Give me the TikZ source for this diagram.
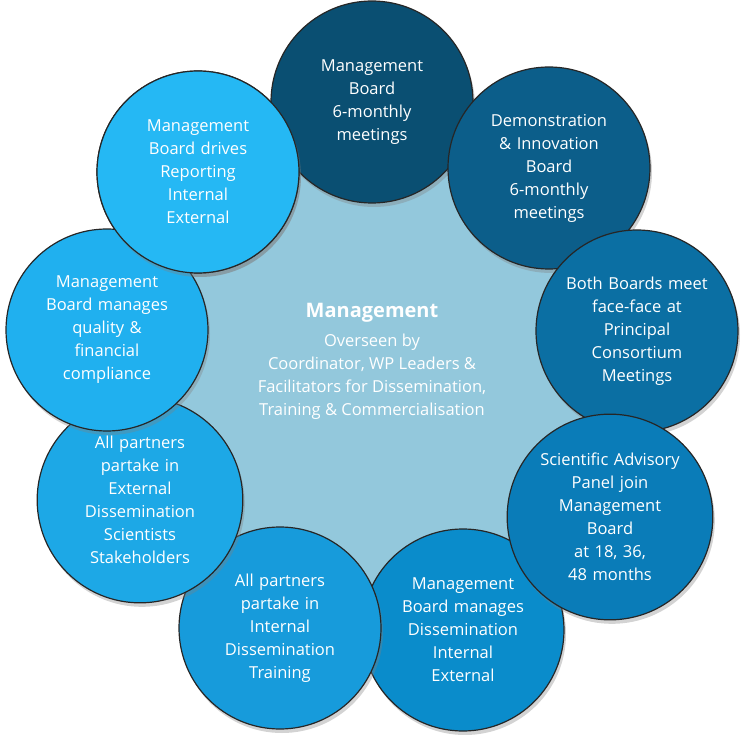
\documentclass[tikz,border=0pt]{standalone}
\usepackage{fontspec}
\setmainfont{Open Sans}
\usetikzlibrary{shadows}
\definecolor{hubfill}{HTML}{93C8DC}
\definecolor{cA}{HTML}{0A4F72}
\definecolor{cB}{HTML}{0C5E8A}
\definecolor{cC}{HTML}{0B6FA3}
\definecolor{cD}{HTML}{0A7CB8}
\definecolor{cE}{HTML}{0A8CCB}
\definecolor{cF}{HTML}{179BDB}
\definecolor{cG}{HTML}{1DA8E6}
\definecolor{cH}{HTML}{20B0EF}
\definecolor{cI}{HTML}{25B8F4}
\tikzset{
  petal/.style={circle, draw=black!85, line width=1.2pt, minimum size=202pt,
    text width=150pt, align=center, text=white, font=\fontsize{16.5}{23}\selectfont,
    drop shadow={opacity=0.35, shadow xshift=2pt, shadow yshift=-4pt}},
  hub/.style={circle, fill=hubfill, minimum size=440pt, text=white, align=center}
}
\begin{document}
\begin{tikzpicture}[x=1pt,y=-1pt]
  \useasboundingbox (0,0) rectangle (745,735);
  \node[hub] (hub) at (372,370) {};
  \node[petal, fill=cI] (drives) at (198,172) {Management\\Board drives\\Reporting\\Internal\\External};
  \node[petal, fill=cA] (mb) at (372,102) {Management\\Board\\6-monthly\\meetings};
  \node[petal, fill=cB] (demo) at (549,168) {Demonstration\\\& Innovation\\Board\\6-monthly\\meetings};
  \node[petal, fill=cC] (both) at (637,331) {Both Boards meet\\face-face at\\Principal\\Consortium\\Meetings};
  \node[petal, fill=cE] (dissem) at (463,630) {Management\\Board manages\\Dissemination\\Internal\\External};
  \node[petal, fill=cD] (sap) at (610,517) {Scientific Advisory\\Panel join\\Management Board\\at 18, 36,\\48 months};
  \node[petal, fill=cF] (internal) at (280,628) {All partners\\partake in\\Internal\\Dissemination\\Training};
  \node[petal, fill=cG] (external) at (140,500) {All partners\\partake in\\External\\Dissemination\\Scientists\\Stakeholders};
  \node[petal, fill=cH] (quality) at (107,330) {Management\\Board manages\\quality \&\\financial\\compliance};
  \node[petal, fill=cI] at (198,172) {Management\\Board drives\\Reporting\\Internal\\External};
  \node[text=white, font=\fontsize{20}{26}\selectfont\bfseries] (title) at (372,313) {Management};
  \node[text=white, align=center, font=\fontsize{16.5}{23}\selectfont, below=4pt] (sub) at (title.south)
    {Overseen by\\Coordinator, WP Leaders \&\\Facilitators for Dissemination,\\Training \& Commercialisation};
\end{tikzpicture}
\end{document}
